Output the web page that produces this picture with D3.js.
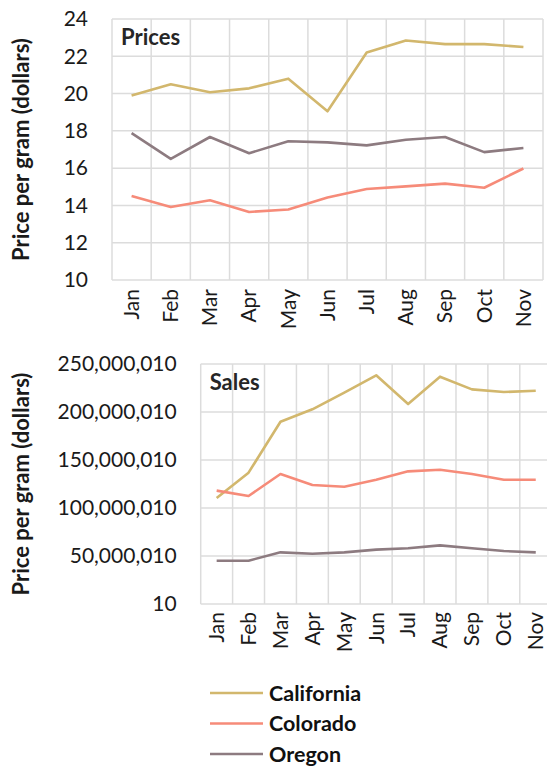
<!DOCTYPE html>
<html>
<head>
<meta charset="utf-8">
<script src="https://cdn.jsdelivr.net/npm/d3@7"></script>
<style>
  body { margin: 0; background: #fff; }
  svg { display: block; font-family: Lato, "Open Sans", sans-serif; }
</style>
</head>
<body>
<div id="chart"></div>
<script>
const months = ["Jan", "Feb", "Mar", "Apr", "May", "Jun", "Jul", "Aug", "Sep", "Oct", "Nov"];
const states = ["California", "Colorado", "Oregon"];
const colors = ["#d2b76d", "#f68b79", "#8d7b80"];

// prices, dollars per gram
const priceCalifornia = [19.9, 20.5, 20.07, 20.28, 20.8, 19.05, 22.2, 22.85, 22.65, 22.65, 22.5];
const priceColorado = [14.5, 13.92, 14.28, 13.65, 13.78, 14.43, 14.88, 15.02, 15.17, 14.95, 15.98];
const priceOregon = [17.88, 16.5, 17.67, 16.8, 17.44, 17.38, 17.22, 17.52, 17.67, 16.86, 17.08];
const priceTicks = [10, 12, 14, 16, 18, 20, 22, 24];

// sales
const salesCalifornia = [110500000, 136800000, 189900000, 202800000, 220100000, 238200000, 208300000, 236800000, 223600000, 220800000, 222200000];
const salesColorado = [118100000, 112500000, 135400000, 124000000, 122200000, 129500000, 138200000, 139900000, 135400000, 129500000, 129500000];
const salesOregon = [45100000, 45100000, 53800000, 52400000, 53800000, 56600000, 58000000, 61100000, 58000000, 55200000, 53800000];
const salesTicks = [10, 50000010, 100000010, 150000010, 200000010, 250000010];

const width = 547;
const height = 766;

const svg = d3.select("#chart")
  .append("svg")
  .attr("width", width)
  .attr("height", height);

const panel = (opts) => {
  const x = d3.scaleBand().domain(months).range([opts.left, opts.right]).padding(0);
  const y = d3.scaleLinear().domain([opts.ticks[0], opts.ticks[opts.ticks.length - 1]]).range([opts.bottom, opts.top]);
  const g = svg.append("g");

  // horizontal grid
  g.selectAll(".hgrid")
    .data(opts.ticks)
    .enter()
    .append("line")
    .attr("x1", opts.left)
    .attr("x2", opts.right)
    .attr("y1", d => y(d))
    .attr("y2", d => y(d))
    .attr("stroke", "#dcdcdc")
    .attr("stroke-width", 1.5);

  // vertical grid at category edges
  const edges = months.map(m => x(m)).concat([opts.right]);
  g.selectAll(".vgrid")
    .data(edges)
    .enter()
    .append("line")
    .attr("x1", d => d)
    .attr("x2", d => d)
    .attr("y1", opts.top)
    .attr("y2", opts.bottom)
    .attr("stroke", "#dcdcdc")
    .attr("stroke-width", 1.5);

  const yAxis = g.append("g")
    .attr("transform", `translate(${opts.left},0)`)
    .call(d3.axisLeft(y).tickValues(opts.ticks).tickSize(0).tickPadding(24).tickFormat(opts.format));
  yAxis.select(".domain").remove();
  yAxis.selectAll("text")
    .attr("font-family", "Lato, sans-serif")
    .attr("font-size", 21)
    .attr("fill", "#1a1a1a");

  const xAxis = g.append("g")
    .attr("transform", `translate(0,${opts.bottom})`)
    .call(d3.axisBottom(x).tickSize(0).tickPadding(0));
  xAxis.select(".domain").remove();
  xAxis.selectAll("text")
    .attr("font-family", "Lato, sans-serif")
    .attr("font-size", 21)
    .attr("fill", "#1a1a1a")
    .attr("transform", "rotate(-90)")
    .attr("text-anchor", "end")
    .attr("x", -opts.labelGap)
    .attr("y", 0)
    .attr("dy", "0.35em");

  const line = d3.line()
    .x((d, i) => x(months[i]) + x.bandwidth() / 2)
    .y(d => y(d));

  g.selectAll(".series")
    .data(opts.series)
    .enter()
    .append("path")
    .attr("d", d => line(d))
    .attr("fill", "none")
    .attr("stroke", (d, i) => colors[i])
    .attr("stroke-width", 2.6)
    .attr("stroke-linejoin", "round");

  g.append("text")
    .attr("x", opts.left + 9)
    .attr("y", opts.top + 26)
    .attr("font-family", "Lato, sans-serif")
    .attr("font-weight", "bold")
    .attr("font-size", 22)
    .attr("fill", "#262626")
    .text(opts.title);

  g.append("text")
    .attr("transform", `translate(29,${(opts.top + opts.bottom) / 2}) rotate(-90)`)
    .attr("text-anchor", "middle")
    .attr("font-family", "Lato, sans-serif")
    .attr("font-weight", "bold")
    .attr("font-size", 22)
    .attr("fill", "#1a1a1a")
    .text("Price per gram (dollars)");
};

panel({
  left: 112, right: 543, top: 19, bottom: 280,
  ticks: priceTicks, format: d3.format("d"),
  series: [priceCalifornia, priceColorado, priceOregon],
  title: "Prices", labelGap: 9
});

panel({
  left: 200.7, right: 551.7, top: 364, bottom: 604,
  ticks: salesTicks, format: d3.format(","),
  series: [salesCalifornia, salesColorado, salesOregon],
  title: "Sales", labelGap: 8
});

// legend
const legend = svg.append("g")
  .selectAll("g")
  .data(states)
  .enter()
  .append("g")
  .attr("transform", (d, i) => `translate(210,${693 + i * 30.5})`);

legend.append("line")
  .attr("x1", 0)
  .attr("x2", 53)
  .attr("stroke", (d, i) => colors[i])
  .attr("stroke-width", 2.6);

legend.append("text")
  .attr("x", 59)
  .attr("dy", "0.35em")
  .attr("font-family", "Lato, sans-serif")
  .attr("font-weight", "bold")
  .attr("font-size", 21.5)
  .attr("fill", "#111")
  .text(d => d);
</script>
</body>
</html>
